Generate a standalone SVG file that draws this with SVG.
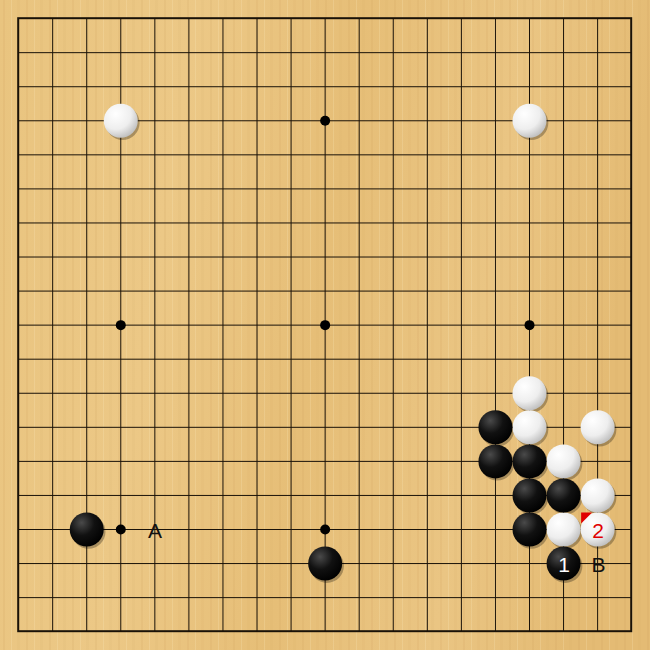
<svg xmlns="http://www.w3.org/2000/svg" width="650" height="650" viewBox="0 0 650 650">
<style>
.grid{stroke:#1a1208;stroke-width:1;fill:none}
.border{stroke:#1a1208;stroke-width:2;fill:none}
.star{fill:#000}
.w{fill:url(#wg)}
.b{fill:url(#bg)}
.sh{fill:#000;opacity:0.28}
.lbl{font-family:"Liberation Sans",Arial,sans-serif;font-size:21px;text-anchor:middle;dominant-baseline:central}
</style>
<defs>
<linearGradient id="wood" x1="0" y1="0" x2="1" y2="0.15">
<stop offset="0" stop-color="#e9c47f"/>
<stop offset="0.3" stop-color="#ecc886"/>
<stop offset="0.55" stop-color="#e6be77"/>
<stop offset="0.8" stop-color="#eac583"/>
<stop offset="1" stop-color="#e4bb74"/>
</linearGradient>
<pattern id="grain" width="23" height="650" patternUnits="userSpaceOnUse">
<rect x="3" y="0" width="2" height="650" fill="#c99a50" opacity="0.12"/>
<rect x="11" y="0" width="1" height="650" fill="#fff3d0" opacity="0.18"/>
<rect x="17" y="0" width="3" height="650" fill="#c99a50" opacity="0.07"/>
</pattern>
<radialGradient id="wg" cx="0.35" cy="0.3" r="0.75">
<stop offset="0" stop-color="#ffffff"/>
<stop offset="0.6" stop-color="#eeeeee"/>
<stop offset="1" stop-color="#bdbdbd"/>
</radialGradient>
<radialGradient id="bg" cx="0.35" cy="0.3" r="0.75">
<stop offset="0" stop-color="#4a4a4a"/>
<stop offset="0.5" stop-color="#111111"/>
<stop offset="1" stop-color="#000000"/>
</radialGradient>
</defs>
<rect x="0" y="0" width="650" height="650" fill="url(#wood)"/>
<rect x="0" y="0" width="650" height="650" fill="url(#grain)"/>
<g transform="translate(0.6 0.6)">
<g id="grid">
<rect class="border" x="17.6" y="17.6" width="613" height="613"/>
<path class="grid" d="M52.06 18V631M86.12 18V631M120.18 18V631M154.24 18V631M188.3 18V631M222.36 18V631M256.42 18V631M290.48 18V631M324.54 18V631M358.6 18V631M392.66 18V631M426.72 18V631M460.78 18V631M494.84 18V631M528.9 18V631M562.96 18V631M597.02 18V631
M18 52.06H631M18 86.12H631M18 120.18H631M18 154.24H631M18 188.3H631M18 222.36H631M18 256.42H631M18 290.48H631M18 324.54H631M18 358.6H631M18 392.66H631M18 426.72H631M18 460.78H631M18 494.84H631M18 528.9H631M18 562.96H631M18 597.02H631"/>
</g>
<g id="stars">
<circle class="star" cx="324.54" cy="120.18" r="5"/>
<circle class="star" cx="120.18" cy="324.54" r="5"/>
<circle class="star" cx="324.54" cy="324.54" r="5"/>
<circle class="star" cx="528.9" cy="324.54" r="5"/>
<circle class="star" cx="120.18" cy="528.9" r="5"/>
<circle class="star" cx="324.54" cy="528.9" r="5"/>
</g>
<g id="shadows">
<circle class="sh" cx="122" cy="122.5" r="17"/>
<circle class="sh" cx="530.7" cy="122.5" r="17"/>
<circle class="sh" cx="530.7" cy="395" r="17"/>
<circle class="sh" cx="530.7" cy="429" r="17"/>
<circle class="sh" cx="598.8" cy="429" r="17"/>
<circle class="sh" cx="564.8" cy="463" r="17"/>
<circle class="sh" cx="598.8" cy="497" r="17"/>
<circle class="sh" cx="564.8" cy="531.2" r="17"/>
<circle class="sh" cx="598.8" cy="531.2" r="17"/>
<circle class="sh" cx="496.6" cy="429" r="17"/>
<circle class="sh" cx="496.6" cy="463" r="17"/>
<circle class="sh" cx="530.7" cy="463" r="17"/>
<circle class="sh" cx="530.7" cy="497" r="17"/>
<circle class="sh" cx="564.8" cy="497" r="17"/>
<circle class="sh" cx="530.7" cy="531.2" r="17"/>
<circle class="sh" cx="564.8" cy="565.3" r="17"/>
<circle class="sh" cx="87.9" cy="531.2" r="17"/>
<circle class="sh" cx="326.3" cy="565.3" r="17"/>
</g>
<g id="white-stones">
<circle id="w-c3-r3" class="w" cx="120.18" cy="120.18" r="17"/>
<circle id="w-c15-r3" class="w" cx="528.9" cy="120.18" r="17"/>
<circle id="w-c15-r11" class="w" cx="528.9" cy="392.66" r="17"/>
<circle id="w-c15-r12" class="w" cx="528.9" cy="426.72" r="17"/>
<circle id="w-c17-r12" class="w" cx="597.02" cy="426.72" r="17"/>
<circle id="w-c16-r13" class="w" cx="562.96" cy="460.78" r="17"/>
<circle id="w-c17-r14" class="w" cx="597.02" cy="494.84" r="17"/>
<circle id="w-c16-r15" class="w" cx="562.96" cy="528.9" r="17"/>
</g>
<g id="move2">
<circle class="w" cx="597.02" cy="528.9" r="17"/>
<path d="M580.5 512H591.5L580.5 523Z" fill="#e00000"/>
<text class="lbl" x="597.5" y="530" fill="#e00000">2</text>
</g>
<g id="black-stones">
<circle id="b-c14-r12" class="b" cx="494.84" cy="426.72" r="17"/>
<circle id="b-c14-r13" class="b" cx="494.84" cy="460.78" r="17"/>
<circle id="b-c15-r13" class="b" cx="528.9" cy="460.78" r="17"/>
<circle id="b-c15-r14" class="b" cx="528.9" cy="494.84" r="17"/>
<circle id="b-c16-r14" class="b" cx="562.96" cy="494.84" r="17"/>
<circle id="b-c15-r15" class="b" cx="528.9" cy="528.9" r="17"/>
<circle id="b-c2-r15" class="b" cx="86.12" cy="528.9" r="17"/>
<circle id="b-c9-r16" class="b" cx="324.54" cy="562.96" r="17"/>
</g>
<g id="move1">
<circle class="b" cx="562.96" cy="562.96" r="17"/>
<text class="lbl" x="563.5" y="564" fill="#ffffff">1</text>
</g>
<g id="labels">
<text class="lbl" x="154.5" y="530" fill="#111">A</text>
<text class="lbl" x="598" y="564" fill="#111">B</text>
</g>
</g>
</svg>
